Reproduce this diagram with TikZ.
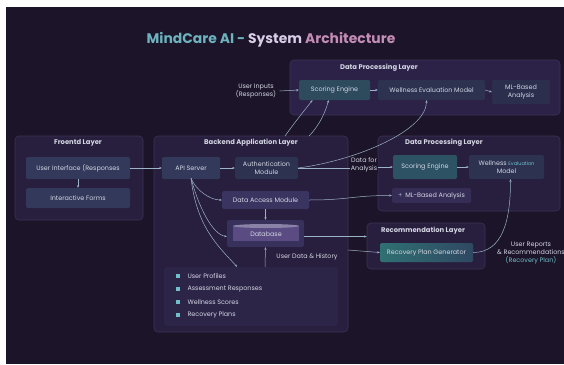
\documentclass[tikz,border=0pt]{standalone}
\usepackage{fontspec}
\setmainfont{Poppins}
\usetikzlibrary{arrows.meta}
\definecolor{bg}{HTML}{1C1428}
\definecolor{layerfill}{HTML}{281E3D}
\definecolor{topfill}{HTML}{2C2146}
\definecolor{layerdraw}{HTML}{3E3258}
\definecolor{boxslate}{HTML}{33395A}
\definecolor{boxdark}{HTML}{2C3250}
\definecolor{boxteal}{HTML}{2E4B5E}
\definecolor{boxpurp}{HTML}{3A3460}
\definecolor{dbinner}{HTML}{5A4C82}
\definecolor{msfill}{HTML}{2D5264}
\definecolor{txt}{HTML}{D4D6E4}
\definecolor{arr}{HTML}{9DB4C8}
\definecolor{tealtxt}{HTML}{6FC0CC}
\definecolor{titleteal}{HTML}{6DB3BE}
\definecolor{titlelav}{HTML}{D9CDE8}
\definecolor{titlemauve}{HTML}{C48DB6}
\definecolor{recA}{HTML}{2F7072}
\definecolor{recB}{HTML}{2F4862}
\begin{document}
\begin{tikzpicture}[x=1pt,y=-1pt,
  layer/.style={draw=layerdraw,fill=layerfill,rounded corners=4pt,line width=0.6pt},
  comp/.style={fill=boxslate,rounded corners=1.5pt,text=txt,align=center,
    font=\fontsize{6.4}{7.6}\selectfont,inner sep=1pt},
  layerlbl/.style={text=txt,font=\fontsize{6.8}{8}\selectfont\bfseries},
  lbl/.style={text=txt,align=center,font=\fontsize{6.4}{7.6}\selectfont},
  link/.style={draw=arr,line width=0.5pt,-{Stealth[length=2.6pt,width=2.2pt]}},
  bul/.style={fill=tealtxt,minimum size=3.4pt,inner sep=0pt}]
\useasboundingbox (0,0) rectangle (564,364);
\fill[white] (0,0) rectangle (564,364);
\fill[bg] (6,7) rectangle (564,364);
% title
\node (title) at (271,40) {\fontsize{13.9}{15}\selectfont\bfseries
  \textcolor{titleteal}{MindCare AI -} \textcolor{titlelav}{System} \textcolor{titlemauve}{Architecture}};
% top data processing layer
\node[layer,fill=topfill,minimum width=270,minimum height=55] (tdpl) at (425,87.5) {};
\node[layerlbl] (tdpllbl) at (379,68) {Data Processing Layer};
\node[comp,fill=boxteal,minimum width=71,minimum height=20] (ts) at (334.5,90) {Scoring Engine};
\node[comp,fill=boxdark,minimum width=107,minimum height=20] (tw) at (431.5,90) {Wellness Evaluation Model};
\node[comp,fill=boxdark!75!topfill,minimum width=58,minimum height=24] (tm) at (521,92) {ML-Based\\Analysis};
\node[lbl] (uin) at (256,91) {User Inputs\\(Responses)};
% frontend
\node[layer,minimum width=128,minimum height=84] (front) at (79,178) {};
\node[layerlbl] (frontlbl) at (78,143) {Froentd Layer};
\node[comp,minimum width=104,minimum height=22] (ui) at (78,168) {User Interface (Responses};
\node[comp,minimum width=104,minimum height=20] (forms) at (78,198) {Interactive Forms};
% backend
\node[layer,minimum width=194,minimum height=196] (back) at (251,234) {};
\node[layerlbl] (backlbl) at (251,143) {Backend Application Layer};
\node[comp,minimum width=58,minimum height=22] (api) at (191,168) {API Server};
\node[comp,fill=boxdark,minimum width=63,minimum height=22] (auth) at (266.5,168) {Authentication\\Module};
\node[comp,fill=boxpurp,minimum width=87,minimum height=18] (dam) at (265.5,200) {Data Access Module};
\node[fill=boxpurp!85!layerfill,rounded corners=2pt,minimum width=77,minimum height=27,inner sep=0pt] (db) at (265.5,233.5) {};
\fill[dbinner] (233,226) rectangle (299,241);
\fill[dbinner!70!white] (266,226) ellipse (33 and 2);
\node[comp,fill=none] (dbtxt) at (266,234) {Database};
\node[fill=layerfill!70!boxpurp,rounded corners=3pt,minimum width=174,minimum height=59] (list) at (251,296.5) {};
\foreach \i/\t in {0/User Profiles,1/Assessment Responses,2/Wellness Scores,3/Recovery Plans}{
  \node[bul] (b\i) at (178,276+13*\i) {};
  \node[lbl,anchor=west] (li\i) at (184,276+13*\i) {\t};
}
\node[lbl] (udh) at (307,257) {User Data \& History};
% middle data processing layer
\node[layer,minimum width=182,minimum height=75] (mdpl) at (469,173.5) {};
\node[layerlbl] (mdpllbl) at (444,143) {Data Processing Layer};
\node[comp,fill=msfill,minimum width=64,minimum height=24] (ms) at (425,167) {Scoring Engine};
\node[comp,fill=boxdark,minimum width=75,minimum height=24] (mw) at (506.5,167) {Wellness \textcolor{tealtxt}{\fontsize{5}{6}\selectfont Evaluation}\\Model};
\node[comp,fill=boxpurp!70!layerfill,minimum width=79,minimum height=15] (mml) at (431.5,195.5) {\textcolor{arr}{+}\, ML-Based Analysis};
\node[lbl,fill=bg,inner sep=0.5pt] (dfa) at (364,165) {Data for\\Analysis};
% recommendation layer
\node[layer,minimum width=118,minimum height=46] (rec) at (426,246) {};
\node[layerlbl] (reclbl) at (423,231) {Recommendation Layer};
\node[comp,left color=recA,right color=recB,minimum width=93,minimum height=19] (rpg) at (426.5,252.5) {Recovery Plan Generator};
\node[lbl] (urep) at (531,253) {User Reports\\\& Recommendations\\\textcolor{tealtxt}{(Recovery Plan)}};
% coordinates
\coordinate (bt1) at (285,136);
\coordinate (bt2) at (309,136);
\coordinate (bre) at (348,250);
% connectors
\draw[link] (uin.east) -- (ts.west);
\draw[link] (ts.east) -- (tw.west);
\draw[link] (tw.east) -- (tm.west);
\draw[link] (ui.east) -- (api.west);
\draw[link] (ui.south) -- (forms.north);
\draw[link] (api.east) -- (auth.west);
\draw[draw=arr,line width=0.5pt] (auth.east) -- (dfa.west |- auth.east);
\draw[link] (dfa.east |- ms.west) -- (ms.west);
\draw[link] (ms.east) -- (mw.west);
\draw[link] (auth.east) .. controls +(60,-8) and +(0,30) .. ([xshift=-5pt]tw.south);
\draw[link] (bt1) .. controls +(10,-14) and +(-8,10) .. ([xshift=-22pt]ts.south);
\draw[link] (bt2) .. controls +(10,-10) and +(-3,12) .. ([xshift=-6pt]ts.south);
\draw[link] ([yshift=1pt]api.south) .. controls +(5,12) and +(-12,0) .. (dam.west);
\draw[link] ([yshift=1pt]api.south) .. controls +(8,30) and +(-14,-2) .. ([yshift=-3pt]db.west);
\draw[link] ([yshift=1pt]api.south) .. controls +(6,50) and +(-18,-20) .. ([xshift=-14pt]list.north);
\draw[link] (dam.south) -- (db.north);
\draw[link] ([xshift=14pt]list.north) -- (db.south);
\draw[link] (dam.east) .. controls +(40,0) and +(-40,0) .. (mml.west);
\coordinate (dbe) at ([yshift=-3pt]db.east);
\draw[link] (dbe) -- (rec.west |- dbe);
\draw[link] (bre) -- (rpg.west);
\draw[link] (rpg.east) .. controls +(30,0) and +(0,40) .. ([xshift=4pt]mw.south);
\end{tikzpicture}
\end{document}
